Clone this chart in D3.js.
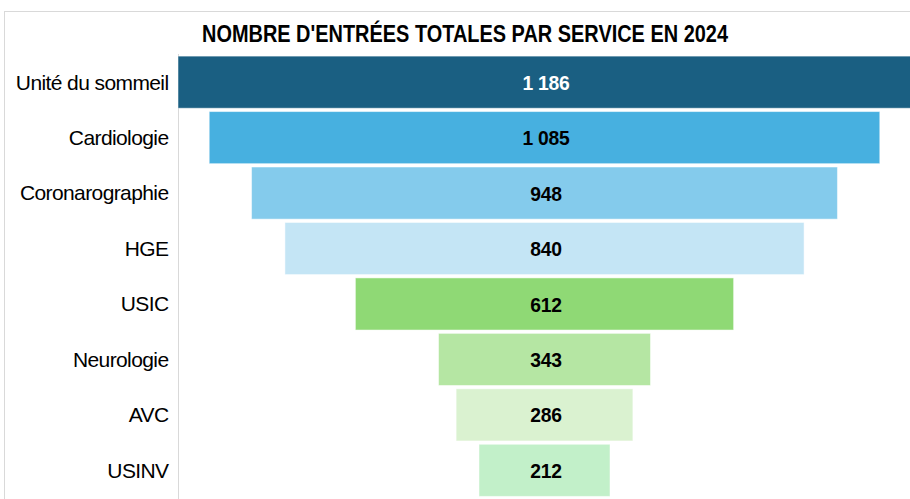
<!DOCTYPE html>
<html><head><meta charset="utf-8">
<script src="https://cdn.jsdelivr.net/npm/d3@7"></script>
<style>body{margin:0;background:#fff}svg{display:block}</style>
</head><body>
<script>
const categories = ["Unité du sommeil","Cardiologie","Coronarographie","HGE","USIC","Neurologie","AVC","USINV"];
const values = [1186,1085,948,840,612,343,286,212];
const colors = ["#1a5f82","#47b0e0","#84cbec","#c4e5f5","#8fd975","#b5e6a3","#daf2d0","#c2f0c9"];
const labelColors = ["#ffffff","#000","#000","#000","#000","#000","#000","#000"];
const title = "NOMBRE D'ENTRÉES TOTALES PAR SERVICE EN 2024";

const W = 910, H = 499;
const svg = d3.select("body").append("svg").attr("width", W).attr("height", H);

// frame
svg.append("line").attr("x1",4).attr("x2",W).attr("y1",11.5).attr("y2",11.5).attr("stroke","#d9d9d9");
svg.append("line").attr("x1",4.5).attr("x2",4.5).attr("y1",11).attr("y2",H).attr("stroke","#d9d9d9");

svg.append("text").attr("x",465).attr("y",42).attr("text-anchor","middle")
  .attr("font-family","Liberation Sans, Arial, sans-serif").attr("font-weight","bold")
  .attr("font-size",23).attr("textLength",526).attr("lengthAdjust","spacingAndGlyphs")
  .attr("fill","#000").text(title);

const y = d3.scaleBand().domain(categories).range([55, 497.5]).paddingInner(0.06).paddingOuter(0.02);
const cx = 544.5;
const x = d3.scaleLinear().domain([0, d3.max(values)]).range([0, 733]);

const axis = d3.axisLeft(y).tickSize(0).tickPadding(10);
const ag = svg.append("g").attr("transform","translate(178.5,0)").call(axis);
ag.select(".domain").attr("stroke","#d9d9d9").attr("d","M0,54V499");
ag.selectAll("text").attr("font-family","Liberation Sans, Arial, sans-serif")
  .attr("font-size",21).attr("letter-spacing","-0.6px").attr("fill","#000").attr("dy","0.35em");

const data = categories.map((c,i)=>({c, v: values[i], col: colors[i], lc: labelColors[i]}));

svg.append("g").selectAll("rect").data(data).join("rect")
  .attr("x", d => cx - x(d.v)/2).attr("width", d => x(d.v))
  .attr("y", d => y(d.c)).attr("height", y.bandwidth())
  .attr("fill", d => d.col).attr("stroke","#ffffff").attr("stroke-opacity",0.5).attr("stroke-width",1);

const sxV = 0.92;
const fmt = v => d3.format(",")(v).replace(/,/g," ");
svg.append("g").selectAll("text").data(data).join("text")
  .attr("transform", d => `translate(${cx + 1.5},${y(d.c) + y.bandwidth()/2}) scale(${sxV},1)`)
  .attr("dy","0.36em")
  .attr("text-anchor","middle").attr("font-family","Liberation Sans, Arial, sans-serif")
  .attr("font-weight","bold").attr("font-size",21).attr("letter-spacing","-0.3px")
  .attr("fill", d => d.lc).text(d => fmt(d.v));
</script>
</body></html>
